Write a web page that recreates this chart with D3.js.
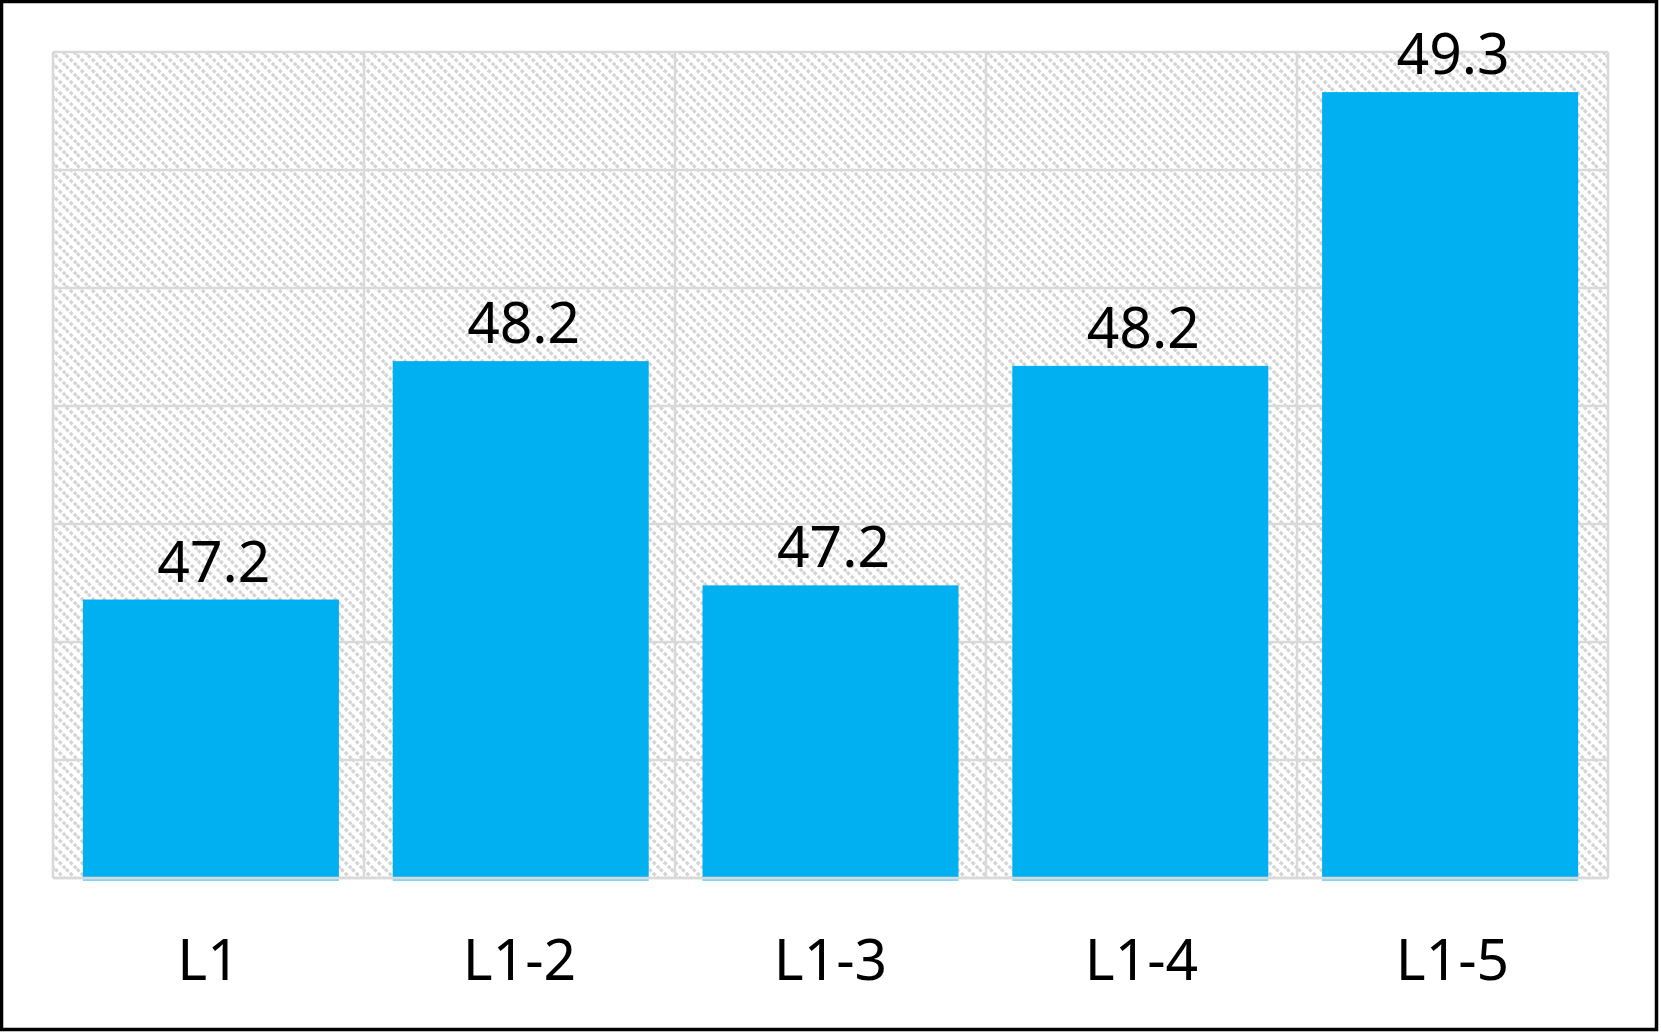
<!DOCTYPE html>
<html>
<head>
<meta charset="utf-8">
<script src="https://cdn.jsdelivr.net/npm/d3@7"></script>
<style>
  body { margin: 0; background: #fff; }
  svg { display: block; }
</style>
</head>
<body>
<script>
// data
var categories = ["L1", "L1-2", "L1-3", "L1-4", "L1-5"];
var values = [47.18, 48.19, 47.24, 48.17, 49.33];
var labels = ["47.2", "48.2", "47.2", "48.2", "49.3"];
var yTicks = [46, 46.5, 47, 47.5, 48, 48.5, 49, 49.5];

var W = 1661, H = 1032;
var margin = {left: 53, right: 53, top: 52, bottom: 154};

var svg = d3.select("body").append("svg")
  .attr("width", W)
  .attr("height", H);

// hatch fill for plot area
var defs = svg.append("defs");
var pat = defs.append("pattern")
  .attr("id", "hatch")
  .attr("patternUnits", "userSpaceOnUse")
  .attr("width", 11)
  .attr("height", 11);
pat.append("rect").attr("width", 11).attr("height", 11).attr("fill", "#fff");
pat.append("path")
  .attr("d", "M0,0 L11,11 M-4,7 L4,15 M7,-4 L15,4")
  .attr("stroke", "#d4d4d4")
  .attr("stroke-width", 3.2)
  .attr("stroke-dasharray", "3.6,2");

var x = d3.scaleBand()
  .domain(categories)
  .range([margin.left, W - margin.right]);

// bars sit on a slightly narrower pitch than the gridlines
var xBar = d3.scaleBand()
  .domain(categories)
  .range([56, 1605]);

var y = d3.scaleLinear()
  .domain([46, 49.5])
  .range([H - margin.bottom, margin.top]);

var g = svg.append("g");

g.append("rect")
  .attr("x", margin.left)
  .attr("y", margin.top)
  .attr("width", W - margin.left - margin.right)
  .attr("height", y(46) - margin.top)
  .attr("fill", "url(#hatch)");

// horizontal gridlines
g.selectAll("line.hgrid")
  .data(yTicks)
  .enter()
  .append("line")
  .attr("class", "hgrid")
  .attr("x1", margin.left)
  .attr("x2", W - margin.right)
  .attr("y1", function(d){ return y(d); })
  .attr("y2", function(d){ return y(d); })
  .attr("stroke", "#d9d9d9")
  .attr("stroke-width", 2.5);

// vertical gridlines at category edges
var edges = categories.map(function(c){ return x(c); }).concat([W - margin.right]);
g.selectAll("line.vgrid")
  .data(edges)
  .enter()
  .append("line")
  .attr("class", "vgrid")
  .attr("x1", function(d){ return d; })
  .attr("x2", function(d){ return d; })
  .attr("y1", margin.top)
  .attr("y2", y(46))
  .attr("stroke", "#d9d9d9")
  .attr("stroke-width", 2.5);

var barW = 256;

g.selectAll("rect.bar")
  .data(values)
  .enter()
  .append("rect")
  .attr("class", "bar")
  .attr("x", function(d, i){ return xBar(categories[i]) + (xBar.bandwidth() - barW) / 2; })
  .attr("y", function(d){ return y(d); })
  .attr("width", barW)
  .attr("height", function(d){ return y(46) - y(d); })
  .attr("fill", "#00b0f0");

// light blue edge under the axis line
g.selectAll("rect.barfoot")
  .data(values)
  .enter()
  .append("rect")
  .attr("x", function(d, i){ return xBar(categories[i]) + (xBar.bandwidth() - barW) / 2; })
  .attr("y", y(46) + 1)
  .attr("width", barW)
  .attr("height", 2)
  .attr("fill", "#7fd6f6");

g.append("line")
  .attr("x1", margin.left)
  .attr("x2", W - margin.right)
  .attr("y1", y(46))
  .attr("y2", y(46))
  .attr("stroke", "#d9d9d9")
  .attr("stroke-width", 2.5);

// data labels
g.selectAll("text.lbl")
  .data(values)
  .enter()
  .append("text")
  .attr("class", "lbl")
  .attr("x", function(d, i){ return xBar(categories[i]) + xBar.bandwidth() / 2 + 3; })
  .attr("y", function(d){ return y(d) - 18; })
  .attr("text-anchor", "middle")
  .style("font-family", "'Noto Sans', sans-serif")
  .style("font-size", "57px")
  .style("fill", "#000")
  .text(function(d, i){ return labels[i]; });

// category axis
var xAxis = g.append("g")
  .attr("transform", "translate(0," + y(46) + ")")
  .call(d3.axisBottom(x).tickSize(0).tickPadding(62));
xAxis.select(".domain").remove();
xAxis.selectAll("text")
  .style("font-family", "'Noto Sans', sans-serif")
  .style("font-size", "57px")
  .style("fill", "#000");

// outer border
svg.append("rect")
  .attr("x", 1.5)
  .attr("y", 1.5)
  .attr("width", W - 6)
  .attr("height", H - 4)
  .attr("fill", "none")
  .attr("stroke", "#000")
  .attr("stroke-width", 3.5);
</script>
</body>
</html>
